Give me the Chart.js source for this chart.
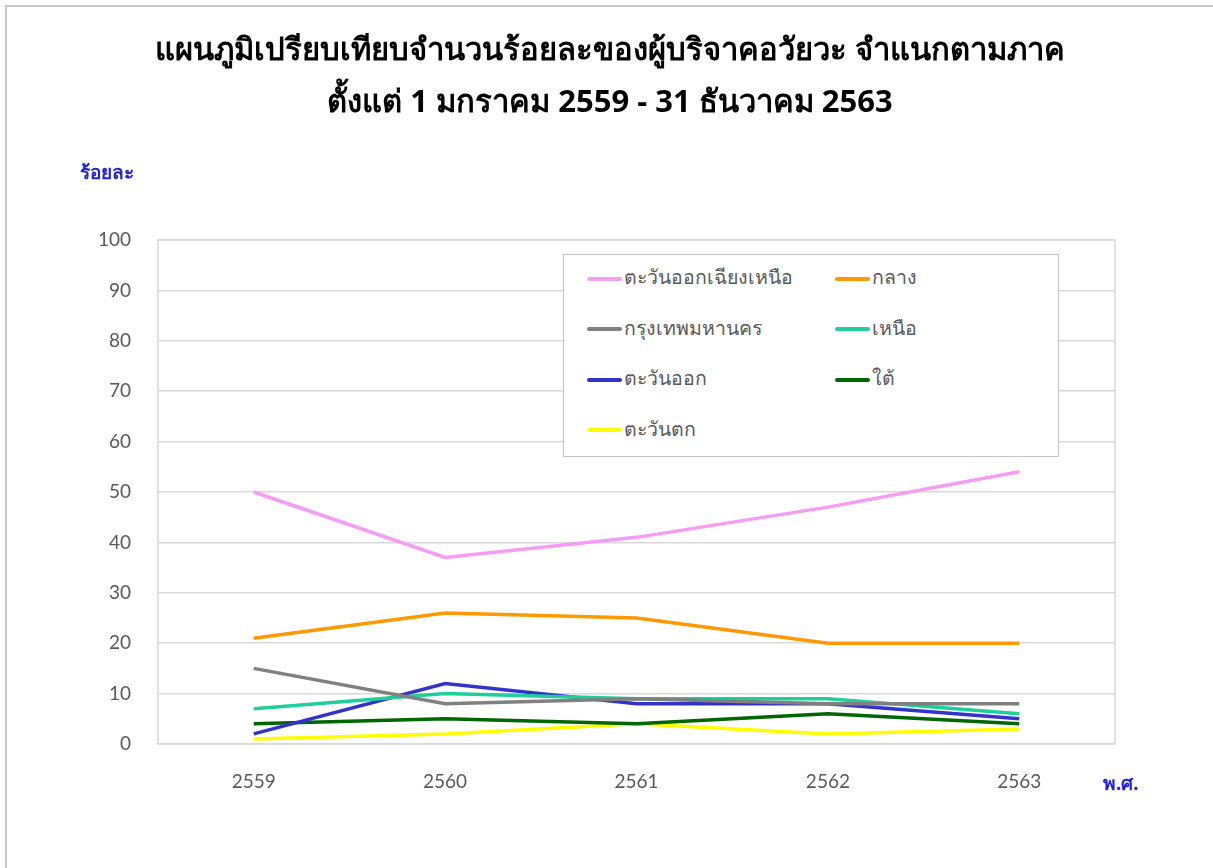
<!DOCTYPE html>
<html>
<head>
<meta charset="utf-8">
<script src="https://cdn.jsdelivr.net/npm/chart.js@4.4.1/dist/chart.umd.min.js"></script>
<style>
body { margin:0; background:#fff; font-family:"Noto Sans", sans-serif; }
#frame { position:absolute; left:5px; top:5px; width:1220px; height:880px; border-top:2px solid #c6c6c6; border-left:2px solid #c6c6c6; }
#wrap { position:absolute; left:0; top:0; width:1213px; height:868px; }
#titulo { position:absolute; left:0; width:1220px; top:22px; text-align:center; font-weight:bold; font-size:31px; line-height:52px; color:#000; }
.axt { position:absolute; color:#2323d6; font-weight:bold; font-size:19px; }
#legend { position:absolute; left:563px; top:254px; width:494px; height:201px; border:1px solid #c4c4c4; background:#fff; }
.item { position:absolute; font-size:19.5px; color:#595959; white-space:nowrap; }
.item span.ln { display:inline-block; width:35px; height:4px; vertical-align:middle; margin-right:2px; border-radius:2px; }
</style>
</head>
<body>
<div id="frame"></div>
<div id="wrap">
<canvas id="grafico" width="1213" height="868"></canvas>
<div id="titulo">แผนภูมิเปรียบเทียบจำนวนร้อยละของผู้บริจาคอวัยวะ จำแนกตามภาค<br>ตั้งแต่ 1 มกราคม 2559 - 31 ธันวาคม 2563</div>
<div class="axt" style="left:80px;top:157px;">ร้อยละ</div>
<div class="axt" style="left:1103px;top:768px;">พ.ศ.</div>
<div id="legend"></div>
</div>
<script>
var anos = ['2559', '2560', '2561', '2562', '2563'];
var nomes = ['ตะวันออกเฉียงเหนือ', 'กลาง', 'กรุงเทพมหานคร', 'เหนือ', 'ตะวันออก', 'ใต้', 'ตะวันตก'];
var cores = ['#f79cf5', '#ff9900', '#808080', '#1ccf9b', '#3333cc', '#006600', '#ffff00'];
var nordeste = [50, 37, 41, 47, 54];
var central = [21, 26, 25, 20, 20];
var bangkok = [15, 8, 9, 8, 8];
var norte = [7, 10, 9, 9, 6];
var leste = [2, 12, 8, 8, 5];
var sul = [4, 5, 4, 6, 4];
var oeste = [1, 2, 4, 2, 3];
var yticks = [0, 10, 20, 30, 40, 50, 60, 70, 80, 90, 100];

var series = [nordeste, central, bangkok, norte, leste, sul, oeste];
var datasets = [];
for (i = 0; i < series.length; i++) {
    datasets.push({
        label: nomes[i],
        data: series[i],
        borderColor: cores[i],
        backgroundColor: cores[i],
        borderWidth: 3.5,
        pointRadius: 0,
        tension: 0,
        fill: false
    });
}

// legenda em html
var conteudo = "";
for (i = 0; i < nomes.length; i++) {
    var col = i % 2, row = Math.floor(i / 2);
    conteudo += '<div class="item" style="left:' + (23 + col * 248) + 'px;top:' + (7 + row * 50.5) + 'px;">' +
        '<span class="ln" style="background:' + cores[i] + '"></span>' + nomes[i] + '</div>';
}
document.getElementById("legend").innerHTML = conteudo;

var caixa = {
    id: 'caixa',
    beforeDatasetsDraw: function (chart) {
        var a = chart.chartArea, c = chart.ctx;
        c.save();
        c.strokeStyle = '#d9d9d9';
        c.lineWidth = 1.5;
        c.strokeRect(a.left, a.top, a.right - a.left, a.bottom - a.top);
        c.restore();
    }
};

var ctx = document.getElementById("grafico");
var grafico = new Chart(ctx, {
    type: 'line',
    data: { labels: anos, datasets: datasets },
    plugins: [caixa],
    options: {
        responsive: false,
        animation: false,
        layout: { padding: { left: 0, right: 98, top: 240, bottom: 0 } },
        plugins: {
            legend: { display: false },
            tooltip: { enabled: false },
            title: { display: false }
        },
        scales: {
            x: {
                offset: true,
                grid: { display: false, drawTicks: false },
                border: { display: false },
                ticks: { color: '#595959', font: { size: 19, family: 'Lato' }, padding: 26 },
                afterFit: function (s) { s.height = 124; }
            },
            y: {
                min: 0,
                max: 100,
                afterBuildTicks: function (s) { s.ticks = yticks.map(function (v) { return { value: v }; }); },
                grid: { color: '#d9d9d9', lineWidth: 1.5, drawTicks: false },
                border: { display: false },
                ticks: { color: '#595959', font: { size: 19, family: 'Lato' }, padding: 27 },
                afterFit: function (s) { s.width = 158; }
            }
        }
    }
});
</script>
</body>
</html>
